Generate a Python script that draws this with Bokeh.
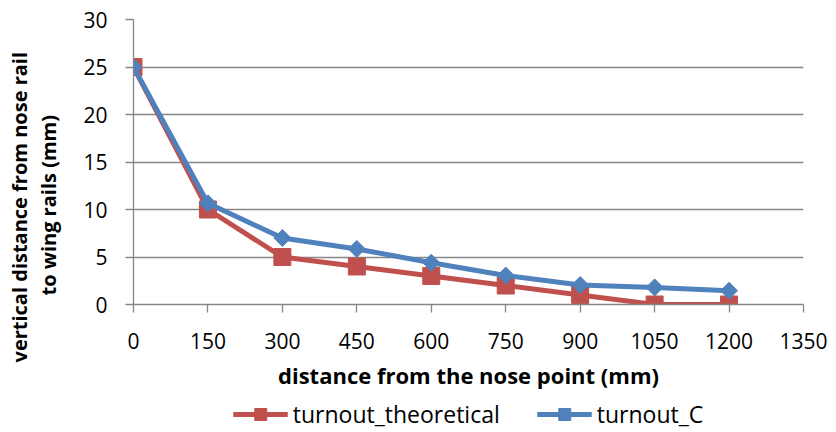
import math
from bokeh.plotting import figure
from bokeh.layouts import column
from bokeh.models import Range1d, FixedTicker, Legend, LegendItem, Title
from bokeh.embed import file_html
from bokeh.resources import INLINE

# ---- data ----
distance_mm = [0, 150, 300, 450, 600, 750, 900, 1050, 1200]
turnout_theoretical = [25, 10, 5, 4, 3, 2, 1, 0, 0]
turnout_C = [25, 10.65, 7.0, 5.85, 4.4, 3.05, 2.05, 1.8, 1.45]
x_ticks = [0, 150, 300, 450, 600, 750, 900, 1050, 1200, 1350]
y_ticks = [0, 5, 10, 15, 20, 25, 30]
series_names = ["turnout_theoretical", "turnout_C"]

RED = "#C0504D"
BLUE = "#4F81BD"
GRID = "#868686"
FONT = "Open Sans"

p = figure(width=836, height=398, output_backend="svg", toolbar_location=None,
           x_range=Range1d(0, 1350), y_range=Range1d(0, 30),
           min_border_left=133, min_border_right=33, min_border_top=19,
           min_border_bottom=94)
p.outline_line_color = None
p.background_fill_color = "white"
p.border_fill_color = "white"

p.xgrid.grid_line_color = None
p.ygrid.grid_line_color = GRID
p.ygrid.grid_line_width = 1.3
p.ygrid.ticker = FixedTicker(ticks=y_ticks)

for ax in (p.xaxis[0], p.yaxis[0]):
    ax.axis_line_color = GRID
    ax.axis_line_width = 1.3
    ax.major_tick_line_color = GRID
    ax.major_tick_line_width = 1.3
    ax.major_tick_in = 0
    ax.major_tick_out = 8
    ax.minor_tick_line_color = None
    ax.major_label_text_font = FONT
    ax.major_label_text_font_size = "21px"
    ax.major_label_text_color = "black"

p.xaxis[0].ticker = FixedTicker(ticks=x_ticks)
p.yaxis[0].ticker = FixedTicker(ticks=y_ticks)
p.xaxis[0].major_label_standoff = 20
p.yaxis[0].major_label_standoff = 18

p.xaxis[0].axis_label = "distance from the nose point (mm)"
p.xaxis[0].axis_label_text_font = FONT
p.xaxis[0].axis_label_text_font_style = "bold"
p.xaxis[0].axis_label_text_font_size = "22px"
p.xaxis[0].axis_label_text_color = "black"
p.xaxis[0].axis_label_standoff = 8

# blank y axis label used only as a spacer between tick labels and the titles
p.yaxis[0].axis_label = "\u00a0"
p.yaxis[0].axis_label_text_font_size = "12px"
p.yaxis[0].axis_label_standoff = 2

# y-axis title as two titles in the left panel
for txt, off in (("to wing rails (mm)", 9), ("vertical distance from nose rail", -58)):
    p.add_layout(Title(text=txt, align="left", text_font=FONT,
                       text_font_style="bold", text_font_size="20px",
                       text_color="black", standoff=0, offset=off), "left")

p.line(distance_mm, turnout_theoretical, line_color=RED, line_width=5)
p.scatter(distance_mm, turnout_theoretical, marker="square", size=17,
          fill_color=RED, line_color=RED)
p.line(distance_mm, turnout_C, line_color=BLUE, line_width=5)
p.scatter(distance_mm, turnout_C, marker="square", angle=math.pi / 4,
          size=12, fill_color=BLUE, line_color=BLUE)

# legend strip below the chart; its renderers sit outside the strip's view,
# so only the legend samples are visible
q = figure(width=836, height=32, output_backend="svg", toolbar_location=None,
           x_axis_location=None, y_axis_location=None,
           x_range=Range1d(0, 1), y_range=Range1d(1000, 1001),
           min_border_left=92, min_border_right=0, min_border_top=0, min_border_bottom=0)
q.outline_line_color = None
q.xgrid.grid_line_color = None
q.ygrid.grid_line_color = None
lr1 = q.line(distance_mm, turnout_theoretical, line_color=RED, line_width=5)
mr1 = q.scatter(distance_mm, turnout_theoretical, marker="square", size=17,
                fill_color=RED, line_color=RED)
lr2 = q.line(distance_mm, turnout_C, line_color=BLUE, line_width=5)
mr2 = q.scatter(distance_mm, turnout_C, marker="square", angle=math.pi / 4, size=12,
                fill_color=BLUE, line_color=BLUE)

legend = Legend(items=[LegendItem(label=series_names[0], renderers=[lr1, mr1]),
                       LegendItem(label=series_names[1], renderers=[lr2, mr2])],
                orientation="horizontal", location="center",
                glyph_width=55, glyph_height=30, label_standoff=5, spacing=37,
                padding=0, margin=0, border_line_color=None,
                background_fill_alpha=0,
                label_text_font=FONT, label_text_font_size="23px",
                label_text_color="black")
q.add_layout(legend)

layout = column(p, q, spacing=0)
open("out.html", "w").write(file_html(layout, INLINE))
